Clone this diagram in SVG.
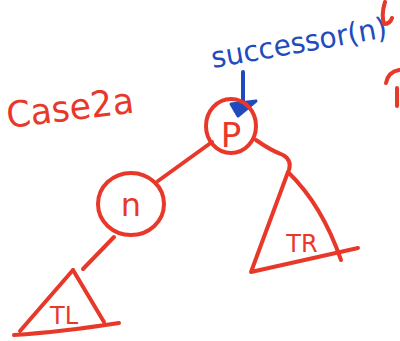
<svg xmlns="http://www.w3.org/2000/svg" width="400" height="341" viewBox="0 0 400 341">
<style>
.r{fill:none;stroke:#e8382a;stroke-width:4;stroke-linecap:round;stroke-linejoin:round}
.b{fill:none;stroke:#1f4bbd;stroke-width:4;stroke-linecap:round;stroke-linejoin:round}
.rt{fill:#e8382a;font-family:"DejaVu Sans","Liberation Sans",sans-serif}
.bt{fill:#1f4bbd;font-family:"DejaVu Sans","Liberation Sans",sans-serif}
</style>
<rect width="400" height="341" fill="#fff"/>
<g id="label-case">
<text class="rt" x="8" y="128" font-size="36" transform="rotate(-7 8 128)" textLength="128" lengthAdjust="spacingAndGlyphs">Case2a</text>
</g>
<g id="label-successor">
<text class="bt" x="213" y="68" font-size="29" transform="rotate(-10 213 68)" textLength="178" lengthAdjust="spacingAndGlyphs">successor(n)</text>
</g>
<g id="edges">
<path class="r" d="M212 142 L158 181"/>
<path class="r" d="M256 140 Q270 150 283 155 Q292 160 289 170"/>
<path class="r" d="M114 237 L83 269"/>
<path class="b" d="M243 72 L243 106"/>
<path d="M231 104 L256 101 L238 116 Z" fill="#1f4bbd" stroke="#1f4bbd" stroke-width="3" stroke-linejoin="round"/>
</g>
<g id="node-p">
<ellipse class="r" cx="231" cy="126" rx="25" ry="27"/>
<text class="rt" x="231" y="147" font-size="34" text-anchor="middle">P</text>
</g>
<g id="node-n">
<ellipse class="r" cx="131" cy="204" rx="33" ry="31"/>
<text class="rt" x="131" y="216" font-size="32" text-anchor="middle">n</text>
</g>
<g id="subtree-tr">
<path class="r" d="M288 172 L251 272 L358 248"/>
<path class="r" d="M288 172 Q322 205 341 260"/>
<text class="rt" x="302" y="252" font-size="24" text-anchor="middle">TR</text>
</g>
<g id="subtree-tl">
<path class="r" d="M73 270 L20 331"/>
<path class="r" d="M73 270 L104 322"/>
<path class="r" d="M14 335 Q60 332 119 323"/>
<text class="rt" x="64" y="324" font-size="24" text-anchor="middle">TL</text>
</g>
<g id="edge-fragments">
<path class="r" d="M385 2 Q381 14 384 24 Q390 24 392 18"/>
<path class="r" d="M386 83 Q388 72 399 70"/>
<path class="r" d="M397 88 L397 106"/>
</g>
</svg>
